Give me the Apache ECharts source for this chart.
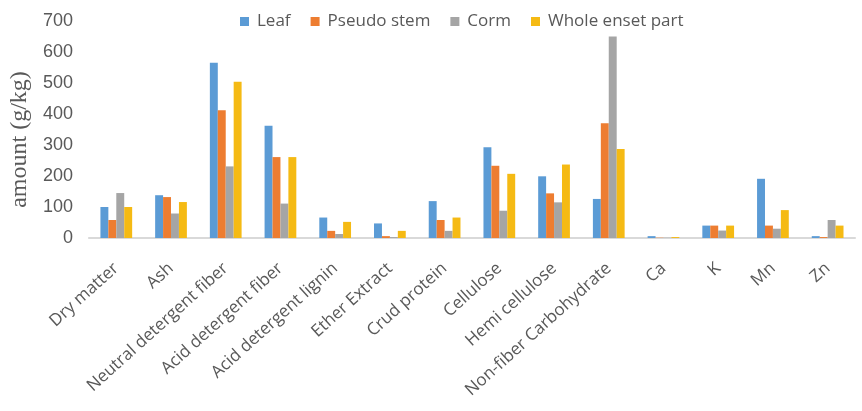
<!DOCTYPE html>
<html><head><meta charset="utf-8">
<script src="https://cdn.jsdelivr.net/npm/echarts@6/dist/echarts.min.js"></script>
<style>html,body{margin:0;padding:0;background:#fff}#c{width:862px;height:411px}</style>
</head><body><div id="c"></div>
<script>
const categories = ["Dry matter","Ash","Neutral detergent fiber","Acid detergent fiber","Acid detergent lignin","Ether Extract","Crud protein","Cellulose","Hemi cellulose","Non-fiber Carbohydrate","Ca","K","Mn","Zn"];
const leaf        = [100,138,565,362,66,47,119,293,199,126,6,40,191,6];
const pseudoStem  = [58,132,412,261,23,6,58,233,144,370,1,40,40,3];
const corm        = [145,79,231,111,13,3,23,88,115,650,1,24,30,58];
const wholeEnset  = [100,116,504,261,52,23,66,207,237,287,3,40,90,40];
const seriesNames = ["Leaf","Pseudo stem","Corm","Whole enset part"];
const colors = ["#5B9BD5","#ED7D31","#A5A5A5","#F5BA14"];

const chart = echarts.init(document.getElementById('c'));
const data = [leaf, pseudoStem, corm, wholeEnset];
chart.setOption({
  animation:false,
  color: colors,
  legend:{
    top:8, left:235, itemWidth:9, itemHeight:9, itemGap:20,
    icon:'rect',
    textStyle:{fontFamily:'Open Sans', fontSize:17, color:'#595959', padding:[0,0,0,3]}
  },
  grid:{left:88, right:7, top:21, bottom:173},
  xAxis:{
    type:'category', data:categories,
    axisTick:{show:false},
    axisLine:{lineStyle:{color:'#D9D9D9', width:2}},
    axisLabel:{rotate:42, interval:0, margin:28, fontFamily:'Open Sans', fontSize:17, color:'#595959'}
  },
  yAxis:{
    type:'value', min:0, max:700, interval:100,
    name:'amount (g/kg)', nameLocation:'middle', nameGap:49,
    nameTextStyle:{fontFamily:'Liberation Serif', fontSize:24, color:'#595959', padding:[0,20,0,0]},
    splitLine:{show:false}, axisLine:{show:false}, axisTick:{show:false},
    axisLabel:{fontFamily:'Liberation Sans', fontSize:18, color:'#595959', margin:16}
  },
  series: seriesNames.map((n,i)=>({
    name:n, type:'bar', data:data[i], barGap:'0%', barCategoryGap:'42%'
  }))
});
</script></body></html>
